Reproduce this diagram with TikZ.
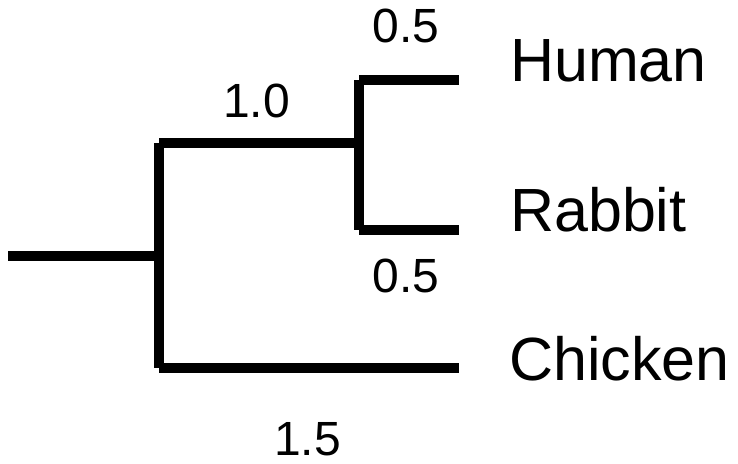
\documentclass[tikz,border=0pt]{standalone}
\usepackage{fontspec}
\setmainfont{Liberation Sans}
\begin{document}
\begin{tikzpicture}[x=1pt,y=-1pt,
  branch/.style={line width=10pt,line cap=butt},
  taxon/.style={anchor=base west,inner sep=0pt,font=\fontsize{61}{61}\selectfont},
  blen/.style={anchor=base,inner sep=0pt,font=\fontsize{48}{48}\selectfont}]
\useasboundingbox (0,0) rectangle (738,463);
% internal nodes and tips of the tree
\coordinate (root) at (8,256);
\coordinate (a)  at (159,256);
\coordinate (a1) at (159,143);
\coordinate (a2) at (159,368);
\coordinate (b)  at (359,143);
\coordinate (b1) at (359,80);
\coordinate (b2) at (359,230);
\coordinate (hu) at (459,80);
\coordinate (ra) at (459,230);
\coordinate (ch) at (459,368);
% branches
\draw[branch] (root) -- (a);
\draw[branch] (a1) -- (a2);
\draw[branch] (a1) -- (b);
\draw[branch] (b1) -- (b2);
\draw[branch] (b1) -- (hu);
\draw[branch] (b2) -- (ra);
\draw[branch] (a2) -- (ch);
% taxon names
\node[taxon] (human)   at (510,81)  {Human};
\node[taxon] (rabbit)  at (510,231) {Rabbit};
\node[taxon] (chicken) at (509,380) {Chicken};
% branch lengths
\node[blen] (lhu) at (406,42)  {0.5};
\node[blen] (lb)  at (256.5,117) {1.0};
\node[blen] (lra) at (406,292) {0.5};
\node[blen] (lch) at (307.5,455) {1.5};
\end{tikzpicture}
\end{document}
